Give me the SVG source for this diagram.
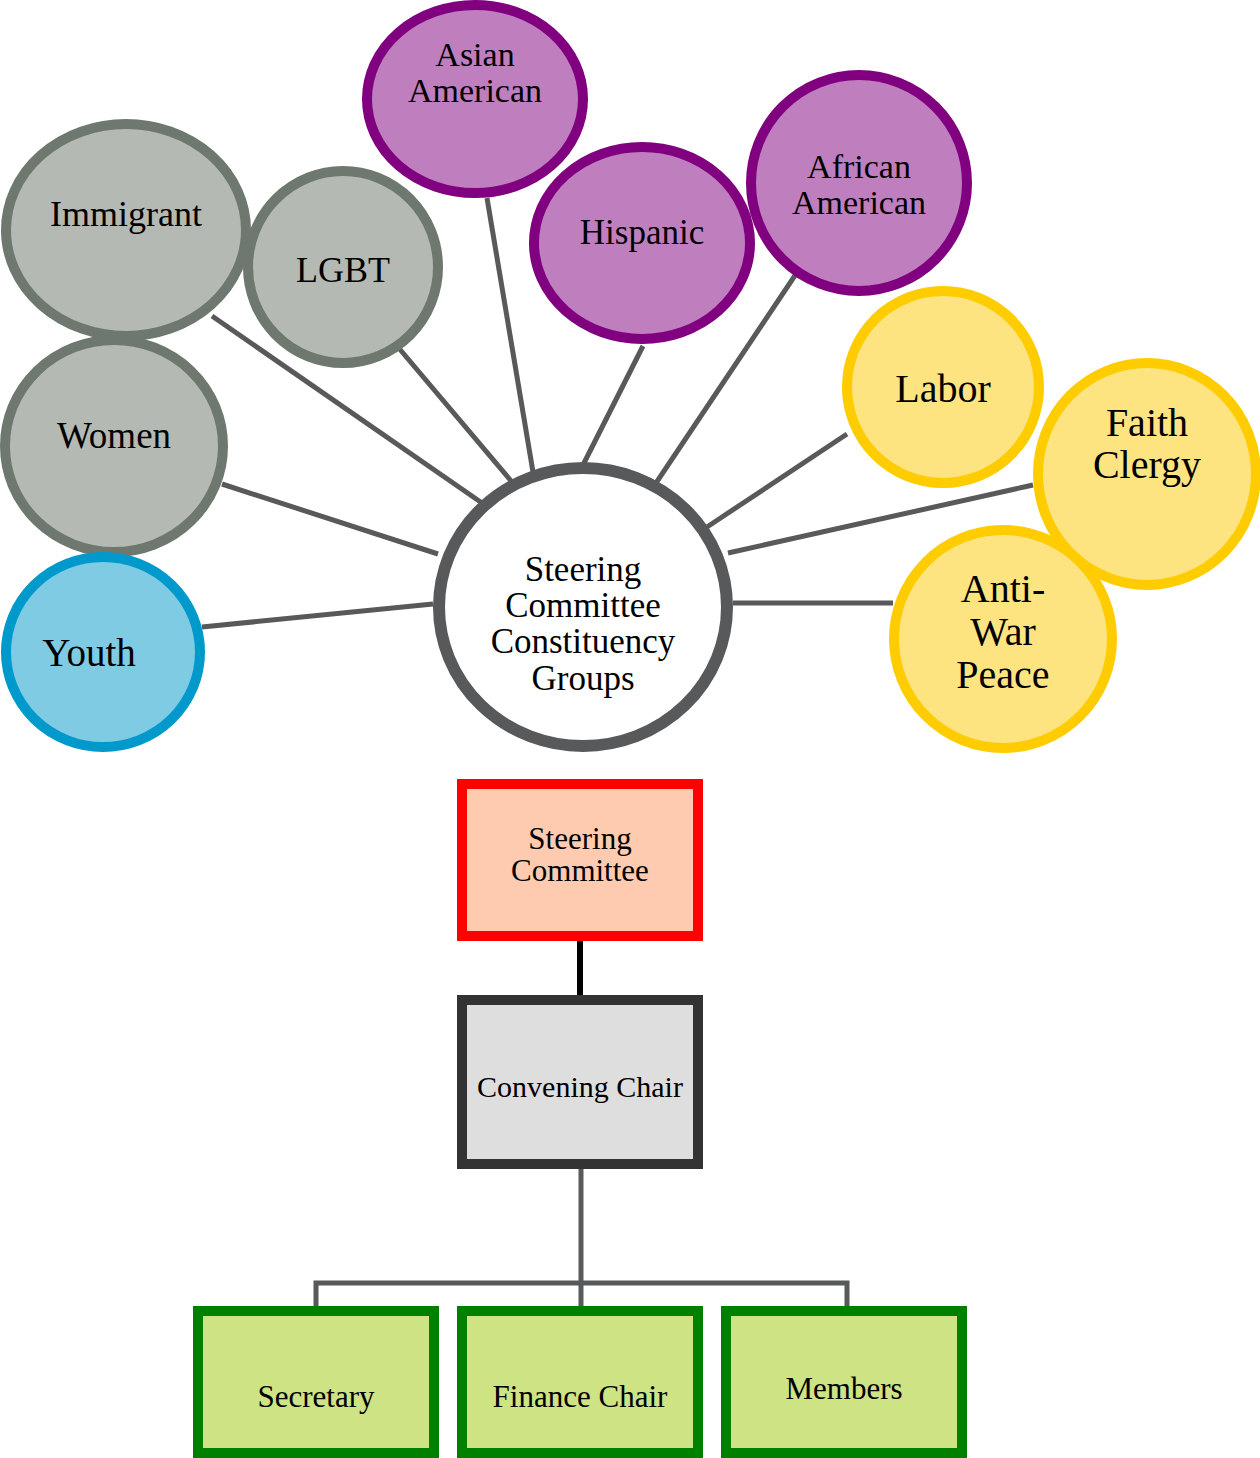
<svg xmlns="http://www.w3.org/2000/svg" width="1260" height="1458" viewBox="0 0 1260 1458">
<style>
text{font-family:"Liberation Serif","Times New Roman",serif;fill:#000;text-anchor:middle}
.gray{fill:#b5b9b3;stroke:#6e786f;stroke-width:10}
.purple{fill:#bf7fbf;stroke:#800080;stroke-width:10}
.yellow{fill:#fde480;stroke:#ffcc00;stroke-width:10}
.blue{fill:#7fcbe3;stroke:#0099cc;stroke-width:10}
.hub{fill:#fff;stroke:#58595b;stroke-width:12}
.spoke{stroke:#58595b;stroke-width:5;fill:none}
.red{fill:#fecab0;stroke:#ff0000;stroke-width:10}
.dark{fill:#dedede;stroke:#333;stroke-width:10}
.green{fill:#cde384;stroke:#008000;stroke-width:10}
</style>
<g id="connectors">
<line class="spoke" x1="212" y1="316" x2="482" y2="503"/>
<line class="spoke" x1="392" y1="340" x2="512" y2="482"/>
<line class="spoke" x1="487" y1="198" x2="533" y2="472"/>
<line class="spoke" x1="643" y1="346" x2="584" y2="463"/>
<line class="spoke" x1="800" y1="268" x2="656" y2="483"/>
<line class="spoke" x1="847" y1="434" x2="707" y2="527"/>
<line class="spoke" x1="1033" y1="485" x2="728" y2="553"/>
<line class="spoke" x1="733" y1="603" x2="893" y2="603"/>
<line class="spoke" x1="222" y1="484" x2="438" y2="554"/>
<line class="spoke" x1="202" y1="627" x2="433" y2="604"/>
<line stroke="#000" stroke-width="6" x1="580" y1="941" x2="580" y2="996"/>
<polyline class="spoke" points="581,1169 581,1283"/>
<polyline class="spoke" points="316,1308 316,1283 847,1283 847,1308"/>
<line class="spoke" x1="581" y1="1283" x2="581" y2="1308"/>
</g>
<g id="immigrant"><ellipse class="gray" cx="126" cy="230" rx="120" ry="106"/><text x="126" y="226" font-size="36">Immigrant</text></g>
<g id="lgbt"><ellipse class="gray" cx="343" cy="267" rx="95" ry="96"/><text x="343" y="282" font-size="36">LGBT</text></g>
<g id="asian"><ellipse class="purple" cx="475" cy="99" rx="108" ry="94"/><text x="475" y="66" font-size="34">Asian</text><text x="475" y="102" font-size="34">American</text></g>
<g id="hispanic"><ellipse class="purple" cx="642" cy="243" rx="108" ry="96"/><text x="642" y="244" font-size="35">Hispanic</text></g>
<g id="african"><ellipse class="purple" cx="859" cy="183" rx="108" ry="108"/><text x="859" y="178" font-size="34">African</text><text x="859" y="214" font-size="34">American</text></g>
<g id="labor"><ellipse class="yellow" cx="943" cy="387" rx="96" ry="96"/><text x="943" y="402" font-size="40">Labor</text></g>
<g id="faith"><ellipse class="yellow" cx="1147" cy="474" rx="109" ry="111"/><text x="1147" y="436" font-size="40">Faith</text><text x="1147" y="478" font-size="40">Clergy</text></g>
<g id="antiwar"><ellipse class="yellow" cx="1003" cy="639" rx="109" ry="109"/><text x="1003" y="602" font-size="40">Anti-</text><text x="1003" y="645" font-size="40">War</text><text x="1003" y="688" font-size="40">Peace</text></g>
<g id="women"><ellipse class="gray" cx="114" cy="446" rx="109" ry="106"/><text x="114" y="448" font-size="37">Women</text></g>
<g id="youth"><ellipse class="blue" cx="103" cy="652" rx="97" ry="95"/><text x="89" y="666" font-size="39">Youth</text></g>
<g id="hub"><ellipse class="hub" cx="583" cy="607" rx="144" ry="139"/><text x="583" y="581" font-size="35">Steering</text><text x="583" y="617" font-size="35">Committee</text><text x="583" y="653" font-size="35">Constituency</text><text x="583" y="690" font-size="35">Groups</text></g>
<g id="steering"><rect class="red" x="462" y="784" width="236" height="152"/><text x="580" y="849" font-size="31">Steering</text><text x="580" y="881" font-size="31">Committee</text></g>
<g id="convening"><rect class="dark" x="462" y="1000" width="236" height="164"/><text x="580" y="1097" font-size="30">Convening Chair</text></g>
<g id="secretary"><rect class="green" x="198" y="1311" width="236" height="142"/><text x="316" y="1407" font-size="31">Secretary</text></g>
<g id="finance"><rect class="green" x="462" y="1311" width="236" height="142"/><text x="580" y="1407" font-size="31">Finance Chair</text></g>
<g id="members"><rect class="green" x="726" y="1311" width="236" height="142"/><text x="844" y="1399" font-size="31">Members</text></g>
</svg>
